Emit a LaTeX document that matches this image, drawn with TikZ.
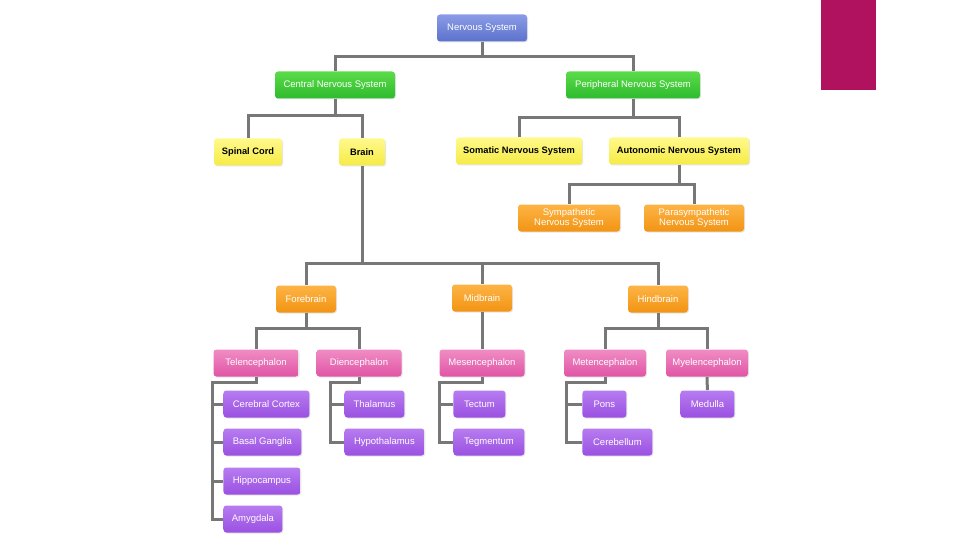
\documentclass[tikz,border=0pt]{standalone}
\usepackage{fontspec}
\setmainfont{Liberation Sans}
\usepackage{tikz}
\usetikzlibrary{calc,shadows}
\definecolor{blueTop}{HTML}{8A9BE6}
\definecolor{blueBot}{HTML}{5C72CC}
\definecolor{greenTop}{HTML}{5CDB4A}
\definecolor{greenBot}{HTML}{2DBB2D}
\definecolor{yellowTop}{HTML}{FFF98C}
\definecolor{yellowBot}{HTML}{F5EB45}
\definecolor{orangeTop}{HTML}{FDB445}
\definecolor{orangeBot}{HTML}{F29414}
\definecolor{pinkTop}{HTML}{F08CC4}
\definecolor{pinkBot}{HTML}{E055A5}
\definecolor{purpleTop}{HTML}{B77CF0}
\definecolor{purpleBot}{HTML}{9A50E2}
\definecolor{linkgray}{HTML}{777777}
\definecolor{accent}{HTML}{B0125F}

\begin{document}
\begin{tikzpicture}[x=1pt, y=-1pt, thick,
  box/.style={rounded corners=3pt, minimum height=27pt, inner sep=1pt, text=white,
    font=\fontsize{9.5}{10.5}\selectfont,
    drop shadow={opacity=0.2, shadow xshift=1pt, shadow yshift=-1pt}},
  bluebox/.style={box, top color=blueTop, bottom color=blueBot},
  greenbox/.style={box, top color=greenTop, bottom color=greenBot},
  yellowbox/.style={box, top color=yellowTop, bottom color=yellowBot, text=black, font=\fontsize{9.3}{10.5}\selectfont\bfseries},
  orangebox/.style={box, top color=orangeTop, bottom color=orangeBot},
  pinkbox/.style={box, top color=pinkTop, bottom color=pinkBot},
  purplebox/.style={box, top color=purpleTop, bottom color=purpleBot, anchor=west},
  link/.style={draw=linkgray, line width=3pt}]
\useasboundingbox (0,0) rectangle (960,540);
\fill[accent] (821,0) rectangle (876,90);

\node[bluebox, minimum width=90pt] (nervous) at (482,28) {Nervous System};
\node[greenbox, minimum width=120pt] (central) at (335,85) {Central Nervous System};
\node[greenbox, minimum width=134pt] (peripheral) at (633,85) {Peripheral Nervous System};
\node[yellowbox, minimum width=68pt] (spinal) at (248,152) {Spinal Cord};
\node[yellowbox, minimum width=46pt] (brain) at (362,152) {Brain};
\node[yellowbox, minimum width=126pt] (somatic) at (519,151) {Somatic Nervous System};
\node[yellowbox, minimum width=140pt] (autonomic) at (679,151) {Autonomic Nervous System};
\node[orangebox, minimum width=102pt, align=center] (sympathetic) at (569,218) {Sympathetic\\Nervous System};
\node[orangebox, minimum width=100pt, align=center] (parasympathetic) at (694,218) {Parasympathetic\\Nervous System};
\node[orangebox, minimum width=60pt] (forebrain) at (306,299) {Forebrain};
\node[orangebox, minimum width=60pt] (midbrain) at (482,298) {Midbrain};
\node[orangebox, minimum width=60pt] (hindbrain) at (658,299) {Hindbrain};
\node[pinkbox, minimum width=85pt] (telencephalon) at (256,363) {Telencephalon};
\node[pinkbox, minimum width=85pt] (diencephalon) at (359,363) {Diencephalon};
\node[pinkbox, minimum width=85pt] (mesencephalon) at (482,363) {Mesencephalon};
\node[pinkbox, minimum width=82pt] (metencephalon) at (605,363) {Metencephalon};
\node[pinkbox, minimum width=82pt] (myelencephalon) at (707,363) {Myelencephalon};
\node[purplebox, minimum width=86pt] (cortex) at (223,404) {Cerebral Cortex};
\node[purplebox, minimum width=78pt] (ganglia) at (223,442) {Basal Ganglia};
\node[purplebox, minimum width=77pt] (hippocampus) at (223,481) {Hippocampus};
\node[purplebox, minimum width=59pt] (amygdala) at (223,519) {Amygdala};
\node[purplebox, minimum width=60pt] (thalamus) at (344,404) {Thalamus};
\node[purplebox, minimum width=80pt] (hypothalamus) at (344,442) {Hypothalamus};
\node[purplebox, minimum width=52pt] (tectum) at (453,404) {Tectum};
\node[purplebox, minimum width=71pt] (tegmentum) at (453,442) {Tegmentum};
\node[purplebox, minimum width=44pt] (pons) at (582,404) {Pons};
\node[purplebox, minimum width=70pt] (cerebellum) at (582,442) {Cerebellum};
\node[purplebox, minimum width=54pt] (medulla) at (680,404) {Medulla};

\foreach \c in {central,peripheral} \draw[link] (nervous.south) -- ++(0,15) -| (\c.north);
\foreach \c in {spinal,brain} \draw[link] (central.south) -- ++(0,17) -| (\c.north);
\foreach \c in {somatic,autonomic} \draw[link] (peripheral.south) -- ++(0,19) -| (\c.north);
\foreach \c in {sympathetic,parasympathetic} \draw[link] (autonomic.south) -- ++(0,20) -| (\c.north);
\foreach \c in {forebrain,midbrain,hindbrain} \draw[link] (brain.south) -- ++(0,98) -| (\c.north);
\foreach \c in {telencephalon,diencephalon} \draw[link] (forebrain.south) -- ++(0,16) -| (\c.north);
\foreach \c in {metencephalon,myelencephalon} \draw[link] (hindbrain.south) -- ++(0,16) -| (\c.north);
\draw[link] (midbrain.south) -- (mesencephalon.north);
\draw[link] (myelencephalon.south) -- (medulla.north);

\coordinate (telebus) at (212,382);
\coordinate (dienbus) at (330,382);
\coordinate (mesobus) at (439,382);
\coordinate (metbus) at (566,382);
\draw[link] (telencephalon.south) |- (telebus) |- (amygdala.west);
\foreach \c in {cortex,ganglia,hippocampus} \draw[link] (telebus |- \c.west) -- (\c.west);
\draw[link] (diencephalon.south) |- (dienbus) |- (hypothalamus.west);
\draw[link] (dienbus |- thalamus.west) -- (thalamus.west);
\draw[link] (mesencephalon.south) |- (mesobus) |- (tegmentum.west);
\draw[link] (mesobus |- tectum.west) -- (tectum.west);
\draw[link] (metencephalon.south) |- (metbus) |- (cerebellum.west);
\draw[link] (metbus |- pons.west) -- (pons.west);
\end{tikzpicture}
\end{document}
